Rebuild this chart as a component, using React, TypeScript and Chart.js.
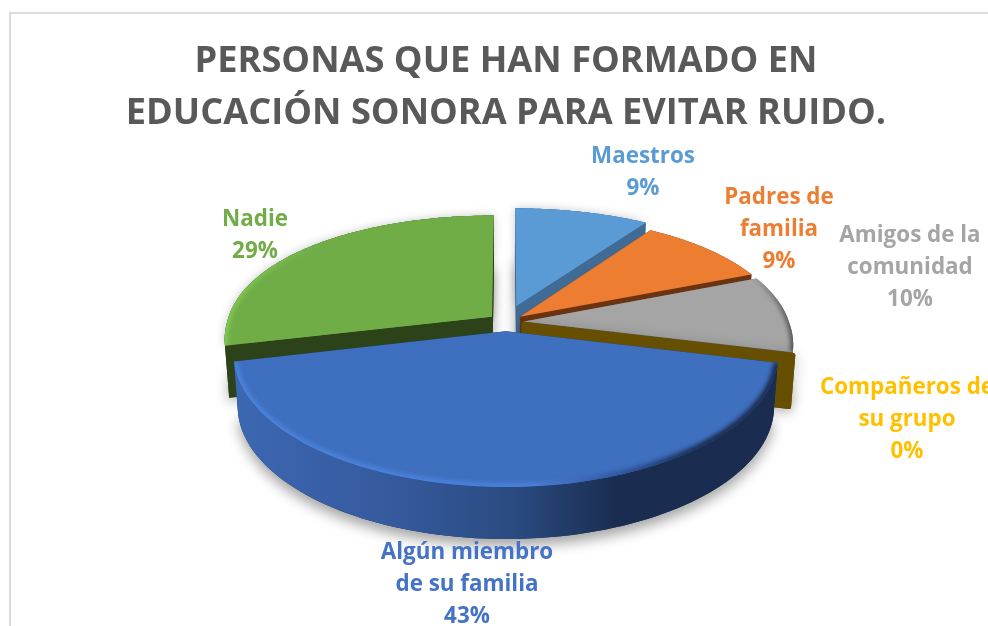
import React, { useEffect, useRef } from "react";
import { Chart, registerables } from "chart.js";

Chart.register(...registerables);

const categories = ["Maestros", "Padres de familia", "Amigos de la comunidad", "Compañeros de su grupo", "Algún miembro de su familia", "Nadie"];
const values = [9.49, 9.49, 9.8, 0, 42.6, 28.62];
const labelLines = [["Maestros"], ["Padres de", "familia"], ["Amigos de la", "comunidad"], ["Compañeros de", "su grupo"], ["Algún miembro", "de su familia"], ["Nadie"]];
const titleLines = ["PERSONAS QUE HAN FORMADO EN", "EDUCACIÓN SONORA PARA EVITAR RUIDO."];

const topColors = ["#5b9bd5", "#ed7d31", "#a5a5a5", "#ffc000", "#3f6fbf", "#70ad47"];
const labelColors = ["#5b9bd5", "#ed7d31", "#a5a5a5", "#ffc000", "#4472c4", "#70ad47"];
const wallColors = ["#3f6b94", "#6b3410", "#666666", "#664f00", "#1a2d50", "#2c4219"];
const explode = [36, 18, 18, 18, 19, 18];
const labelCenters: [number, number][] = [[631, 145], [767, 186], [898, 224], [895, 376], [455, 541], [243, 208]];
const drawOrder = [5, 0, 1, 2, 3, 4];

const FONT = '"Open Sans", sans-serif';
const PLANE_RADIUS = 265;
const TILT = 0.475;
const DEPTH = 52;

function project(cx: number, cy: number, u: number, v: number, drop = 0): [number, number] {
  const d = v < 0 ? 1192 : 1557;
  const dx = v < 0 ? 1800 : 1557;
  const s = d / (d - v);
  const sx = dx / (dx - v);
  const inward = drop > 0 ? 0.985 : 1;
  return [cx + u * sx * inward, cy + TILT * v * s + drop];
}

const pie3d = {
  id: "pie3d",
  beforeDatasetsDraw(chart: any) {
    const { ctx } = chart;
    const arcs = chart.getDatasetMeta(0).data;
    drawOrder.forEach((i) => {
      const arc = arcs[i];
      const { x: cx, y: cy, startAngle, endAngle, outerRadius } = arc;
      const G = PLANE_RADIUS / outerRadius;
      const R = outerRadius * G;
      const off = arc.options.offset;
      const mid = (startAngle + endAngle) / 2;
      const ou = off * Math.cos(mid);
      const ov = off * Math.sin(mid);
      const steps = 90;
      const rim: [number, number][] = [];
      const low: [number, number][] = [];
      for (let k = 0; k <= steps; k++) {
        const t = startAngle + ((endAngle - startAngle) * k) / steps;
        const u = R * Math.cos(t) + ou;
        const v = R * Math.sin(t) + ov;
        rim.push(project(cx, cy, u, v));
        low.push(project(cx, cy, u, v, DEPTH));
      }
      const apex = project(cx, cy, ou, ov);
      const apexLow = project(cx, cy, ou, ov, DEPTH);
      const poly = (pts: [number, number][]) => {
        ctx.beginPath();
        pts.forEach((p, n) => (n ? ctx.lineTo(p[0], p[1]) : ctx.moveTo(p[0], p[1])));
        ctx.closePath();
      };
      const wall = wallColors[i];
      const flat = endAngle - startAngle < 1e-6;
      ctx.save();
      ctx.lineJoin = "round";
      // soft cast shadow of the extruded shape
      ctx.shadowColor = "rgba(0,0,0,0.36)";
      ctx.shadowBlur = 13;
      ctx.shadowOffsetY = i === 4 ? 7 : 3;
      ctx.fillStyle = wall;
      ctx.strokeStyle = wall;
      if (flat) {
        ctx.lineWidth = 4;
        poly([apex, rim[0], low[0], apexLow]);
        ctx.stroke();
        ctx.shadowColor = "transparent";
        ctx.fill();
        ctx.stroke();
      } else {
        poly([apexLow, ...low]);
        ctx.fill();
      }
      if (i === 0 || i === 5) {
        ctx.shadowColor = "rgba(0,0,0,0.22)";
        ctx.shadowBlur = 10;
        ctx.shadowOffsetY = 0;
        ctx.fillStyle = topColors[i];
        poly([apex, ...rim]);
        ctx.fill();
      }
      ctx.restore();

      if (flat) return;

      // cut faces
      ctx.fillStyle = wall;
      poly([apex, rim[0], low[0], apexLow]);
      ctx.fill();
      poly([apex, rim[steps], low[steps], apexLow]);
      ctx.fill();

      // outer wall
      let side: any = wall;
      if (i === 4) {
        side = ctx.createLinearGradient(cx - 275, 0, cx + 275, 0);
        side.addColorStop(0, "#3c68b3");
        side.addColorStop(0.3, "#35599c");
        side.addColorStop(0.52, "#2a4a80");
        side.addColorStop(0.7, "#1a2d50");
        side.addColorStop(1, "#1a2d50");
      }
      ctx.fillStyle = side;
      poly([...rim, ...low.slice().reverse()]);
      ctx.fill();

      // top face
      ctx.fillStyle = topColors[i];
      poly([apex, ...rim]);
      ctx.fill();

      // bevel along the rim
      if (i === 4 || i === 5 || i === 2) {
        ctx.save();
        poly([apex, ...rim]);
        ctx.clip();
        let bevel: any;
        if (i === 5) {
          bevel = ctx.createLinearGradient(cx - 285, 0, cx - 180, 0);
          bevel.addColorStop(0, "#84cc58");
          bevel.addColorStop(1, topColors[5]);
        }
        if (i === 2) {
          bevel = ctx.createLinearGradient(cx + 245, 0, cx + 290, 0);
          bevel.addColorStop(0, topColors[2]);
          bevel.addColorStop(1, "#4d4d4d");
        }
        if (i === 4) {
          bevel = ctx.createLinearGradient(cx - 275, 0, cx + 275, 0);
          bevel.addColorStop(0, "#4b82da");
          bevel.addColorStop(0.55, "#4a80d8");
          bevel.addColorStop(0.72, "#2d5296");
          bevel.addColorStop(0.85, "#1a2d50");
          bevel.addColorStop(1, "#1a2d50");
        }
        ctx.filter = "blur(2px)";
        ctx.strokeStyle = bevel;
        ctx.lineWidth = i === 4 ? 8 : 6;
        ctx.beginPath();
        rim.forEach((p, n) => (n ? ctx.lineTo(p[0], p[1]) : ctx.moveTo(p[0], p[1])));
        ctx.stroke();
        ctx.restore();
      }
    });
    return false;
  },
  afterDraw(chart: any) {
    const { ctx } = chart;
    ctx.save();
    ctx.font = `bold 22.4px ${FONT}`;
    ctx.textAlign = "center";
    ctx.textBaseline = "middle";
    categories.forEach((_, i) => {
      const lines = [...labelLines[i], `${Math.round(values[i])}%`];
      ctx.fillStyle = labelColors[i];
      lines.forEach((line, n) => {
        ctx.fillText(line, labelCenters[i][0], labelCenters[i][1] + n * 32);
      });
    });
    ctx.restore();
  },
};

export default function App() {
  const ref = useRef<HTMLCanvasElement>(null);
  useEffect(() => {
    document.body.style.margin = "0";
    document.body.style.overflow = "hidden";
    const chart = new Chart(ref.current!, {
      type: "pie",
      data: {
        labels: categories,
        datasets: [{ data: values, backgroundColor: topColors, offset: explode, borderWidth: 0 }],
      },
      options: {
        animation: false,
        responsive: false,
        layout: { padding: { bottom: 148 } },
        plugins: {
          legend: { display: false },
          tooltip: { enabled: false },
          title: {
            display: true,
            text: titleLines,
            color: "#595959",
            font: { family: FONT, size: 36.2, weight: "bold", lineHeight: 52 / 36.2 },
            padding: { top: 24, bottom: 0 },
          },
        },
      },
      plugins: [pie3d],
    } as any);
    return () => chart.destroy();
  }, []);
  return (
    <div style={{ position: "fixed", left: 0, top: 0, width: 988, height: 626, overflow: "hidden", background: "#fff" }}>
      <div style={{ position: "absolute", left: 9, top: 12, width: 1200, height: 800, borderLeft: "2px solid #dcdcdc", borderTop: "2px solid #dcdcdc" }} />
      <canvas ref={ref} width={988} height={640} style={{ position: "absolute", left: 12, top: 12, width: 988, height: 640, display: "block" }} />
    </div>
  );
}
